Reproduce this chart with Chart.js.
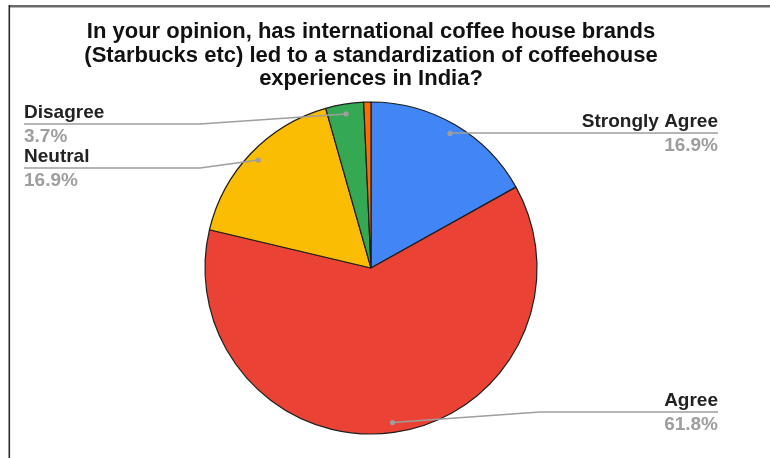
<!DOCTYPE html>
<html>
<head>
<meta charset="utf-8">
<script src="https://cdn.jsdelivr.net/npm/chart.js@4.4.1/dist/chart.umd.min.js"></script>
<style>
  html, body { margin: 0; padding: 0; background: #ffffff; }
  #wrap { width: 770px; height: 458px; position: relative; }
</style>
</head>
<body>
<div id="wrap"><canvas id="opinion-pie" width="770" height="458"></canvas></div>
<script>
// survey answers, clockwise from 12 o'clock
const answers = ['Strongly Agree', 'Agree', 'Neutral', 'Disagree', 'Strongly Disagree'];
const shares = [16.9, 61.8, 16.9, 3.7, 0.7];
const sliceColors = ['#4285F4', '#EA4335', '#FBBC04', '#34A853', '#FF6D01'];
const titleLines = [
  'In your opinion, has international coffee house brands',
  '(Starbucks etc) led to a standardization of coffeehouse',
  'experiences in India?'
];

// callout layout per slice: side, y of leader line, x where the leader bends
const callouts = [
  { side: 'right', lineY: 133, bendX: null },
  { side: 'right', lineY: 412, bendX: 540 },
  { side: 'left', lineY: 168, bendX: 200 },
  { side: 'left', lineY: 124, bendX: 200 },
  null
];

const FONT = '"Liberation Sans", Arial, sans-serif';

const framePlugin = {
  id: 'frame',
  beforeDraw(chart) {
    const ctx = chart.ctx;
    ctx.save();
    ctx.fillStyle = '#ffffff';
    ctx.fillRect(0, 0, chart.width, chart.height);
    ctx.fillStyle = '#6b6b6b';
    ctx.fillRect(9, 5, chart.width - 9, 2.5);
    ctx.fillStyle = '#2a2a2a';
    ctx.fillRect(8.5, 5, 1.6, chart.height - 5);

    // title
    ctx.fillStyle = '#111111';
    ctx.font = 'bold 22px ' + FONT;
    ctx.textAlign = 'center';
    ctx.textBaseline = 'alphabetic';
    titleLines.forEach((line, i) => {
      ctx.fillText(line, 371, 38 + i * 23.5);
    });
    ctx.restore();
  }
};

const calloutPlugin = {
  id: 'callouts',
  afterDatasetsDraw(chart) {
    const ctx = chart.ctx;
    const arcs = chart.getDatasetMeta(0).data;
    ctx.save();
    arcs.forEach((arc, i) => {
      const c = callouts[i];
      if (!c) return;
      const mid = (arc.startAngle + arc.endAngle) / 2;
      const r = arc.outerRadius * 0.94;
      const dx = arc.x + Math.cos(mid) * r;
      const dy = arc.y + Math.sin(mid) * r;
      const edgeX = c.side === 'right' ? 718 : 24;

      ctx.strokeStyle = '#9e9e9e';
      ctx.lineWidth = 1.5;
      ctx.beginPath();
      ctx.moveTo(dx, dy);
      if (c.bendX !== null) ctx.lineTo(c.bendX, c.lineY);
      else ctx.lineTo(dx, c.lineY);
      ctx.lineTo(edgeX, c.lineY);
      ctx.stroke();

      ctx.fillStyle = '#9e9e9e';
      ctx.beginPath();
      ctx.arc(dx, dy, 2.6, 0, Math.PI * 2);
      ctx.fill();

      ctx.textAlign = c.side === 'right' ? 'right' : 'left';
      ctx.textBaseline = 'alphabetic';
      ctx.font = 'bold 19px ' + FONT;
      ctx.fillStyle = '#222222';
      ctx.fillText(answers[i], edgeX, c.lineY - 6);
      ctx.fillStyle = '#9e9e9e';
      ctx.fillText(shares[i].toFixed(1) + '%', edgeX, c.lineY + 18);
    });
    ctx.restore();
  }
};

function createOpinionPie() {
  const pieCtx = document.getElementById('opinion-pie').getContext('2d');
  new Chart(pieCtx, {
    type: 'pie',
    data: {
      labels: answers,
      datasets: [{
        data: shares,
        backgroundColor: sliceColors,
        borderColor: '#1e1e1e',
        borderWidth: 1.2
      }]
    },
    options: {
      responsive: false,
      animation: false,
      radius: 166,
      layout: {
        padding: { top: 102, bottom: 24, left: 205, right: 233 }
      },
      plugins: {
        legend: { display: false },
        tooltip: { enabled: false },
        title: { display: false }
      }
    },
    plugins: [framePlugin, calloutPlugin]
  });
}

createOpinionPie();
</script>
</body>
</html>
